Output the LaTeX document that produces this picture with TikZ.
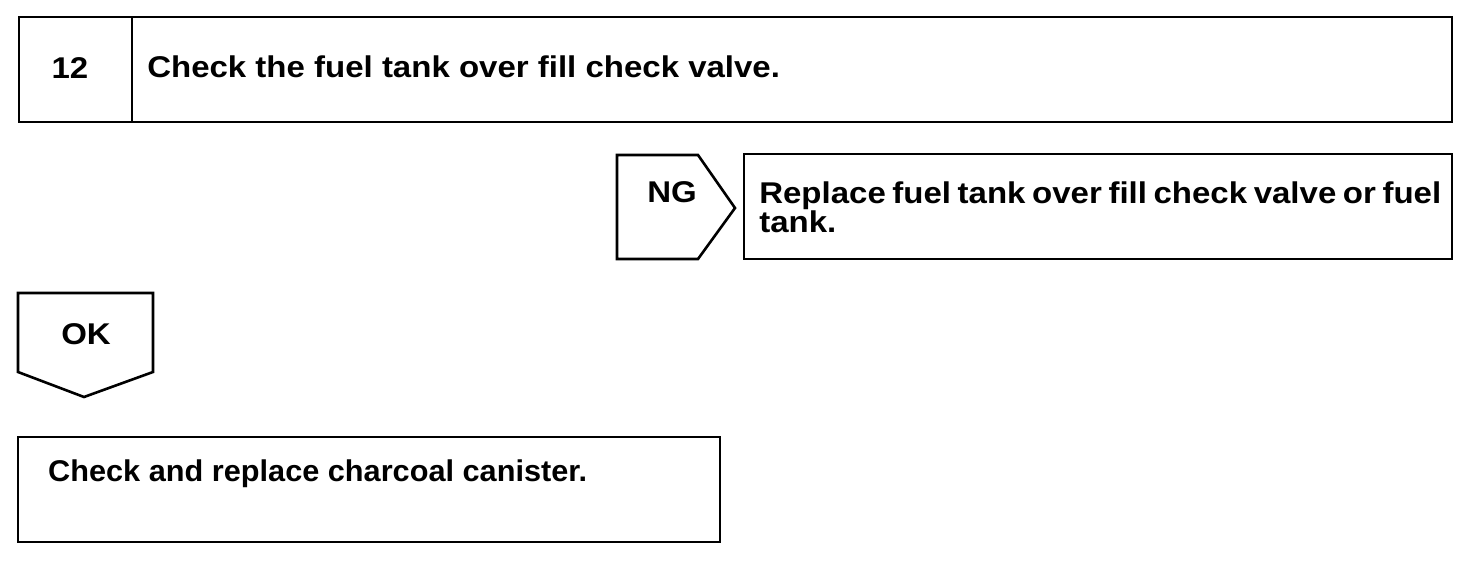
\documentclass[tikz,border=0pt]{standalone}
\usepackage{fontspec}
\setmainfont{Liberation Sans}[FakeStretch = 1.1]
\begin{document}
\begin{tikzpicture}[x = 1pt,y = -1pt,line width = 2.6pt,line join = miter,
    every node/.style = {font = {\fontsize{30}{24}\selectfont\bfseries},inner sep = 0pt},
    frame/.style = {draw,line width = 2.6pt}]
        \useasboundingbox (0,0) rectangle (1472,564);
        % step 12
        \draw[frame] (19,17) rectangle (1452,122);
        \draw (132,17) -- (132,122);
        \node (num) at (70,68) {12};
        \node[anchor = west] (check) at (146,67) {Check the fuel tank over fill check valve.};

        % NG branch
        \draw[frame] (617,155) -- (698,155) -- (735,208) -- (698,259) -- (617,259) -- cycle;
        \node (ng) at (672,192) {NG};
        \draw[frame] (744,154) rectangle (1452,259);
        \node[anchor = north west,text width = 682pt,align = justify] (repl) at (758,180)
            {Replace fuel tank over fill check valve or fuel tank.};

        % OK branch
        \draw[frame] (18,293) -- (153,293) -- (153,372) -- (84,397) -- (18,372) -- cycle;
        \node (ok) at (86,334) {OK};
        \draw[frame] (18,437) rectangle (720,542);
        \node[anchor = west,xscale = 0.93] (canister) at (47,474) {Check and replace charcoal canister.};
    \end{tikzpicture}
\end{document}
